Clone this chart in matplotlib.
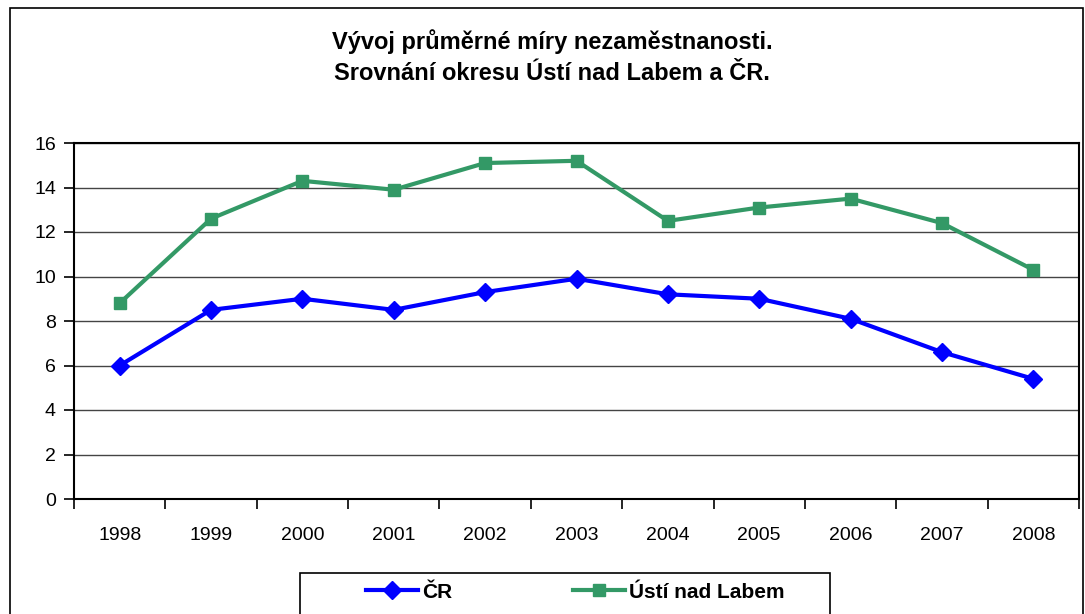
import matplotlib.pyplot as plt
from matplotlib.patches import Rectangle
import numpy as np

plt.rcParams['font.family'] = ['Liberation Sans', 'DejaVu Sans']

roky = ['1998', '1999', '2000', '2001', '2002', '2003', '2004', '2005', '2006', '2007', '2008']
cr = [6.0, 8.5, 9.0, 8.5, 9.3, 9.9, 9.2, 9.0, 8.1, 6.6, 5.4]
usti = [8.8, 12.6, 14.3, 13.9, 15.1, 15.2, 12.5, 13.1, 13.5, 12.4, 10.3]

W, H = 1085, 614
fig = plt.figure(figsize=(W / 100, H / 100), dpi=100)

# outer chart border
fig.patches.append(Rectangle((10 / W, 1 - 640 / H), 1073 / W, 632 / H,
                             transform=fig.transFigure, fill=False,
                             edgecolor='black', lw=1.2))

ax = fig.add_axes([74 / W, 1 - 499 / H, (1079 - 74) / W, (499 - 143) / H])
x = np.arange(len(roky))
ax.plot(x, cr, color='#0000FF', lw=3, marker='D', ms=9, label='ČR', zorder=3)
ax.plot(x, usti, color='#339966', lw=3, marker='s', ms=9, label='Ústí nad Labem', zorder=3)

ax.set_xlim(-0.5, len(roky) - 0.5)
ax.set_ylim(0, 16)
ax.set_yticks(range(0, 17, 2))
ax.set_xticks(x)
ax.set_xticklabels(roky)
ax.set_xticks(np.arange(-0.5, len(roky), 1), minor=True)
ax.tick_params(axis='x', which='major', length=0, pad=20, labelsize=14)
ax.tick_params(axis='x', which='minor', length=7, width=1.2, color='black')
ax.tick_params(axis='y', length=7, width=1.2, labelsize=14, pad=6)
ax.grid(axis='y', color='#444444', lw=1)
ax.set_axisbelow(True)
for s in ax.spines.values():
    s.set_linewidth(1.5)
    s.set_color('black')

fig.text(552 / W, 1 - 42 / H, 'Vývoj průměrné míry nezaměstnanosti.',
         ha='center', va='center', fontsize=17, fontweight='bold')
fig.text(552 / W, 1 - 73 / H, 'Srovnání okresu Ústí nad Labem a ČR.',
         ha='center', va='center', fontsize=17, fontweight='bold')

# legend box
fig.patches.append(Rectangle((300 / W, 1 - 650 / H), 530 / W, 77 / H,
                             transform=fig.transFigure, fill=False,
                             edgecolor='black', lw=1.2))
leg = fig.legend(loc='center left', bbox_to_anchor=(347 / W, 1 - 592 / H), ncol=2,
                 frameon=False, prop={'weight': 'bold', 'size': 15},
                 columnspacing=5.8, handlelength=2.5, handletextpad=0.2)

fig.savefig('out.png', dpi=100)
